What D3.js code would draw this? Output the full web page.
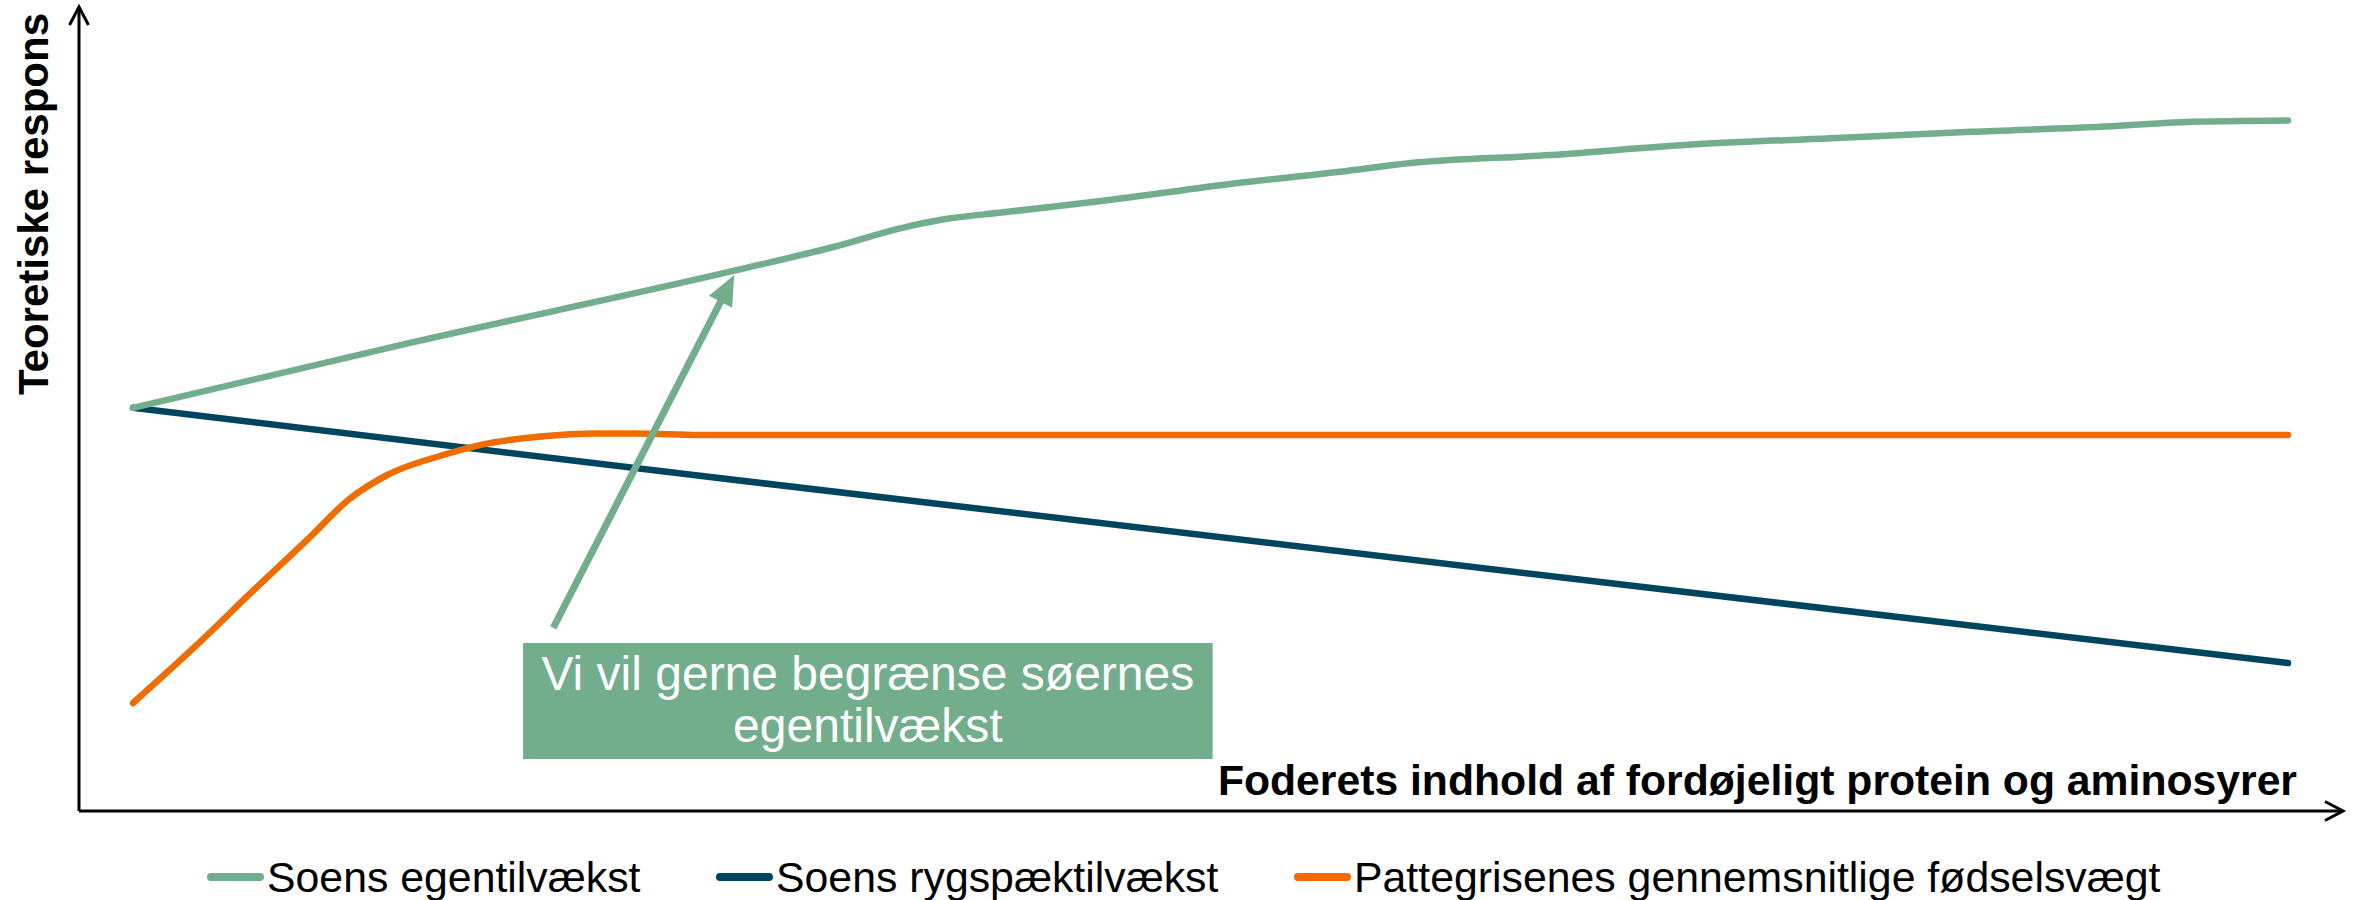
<!doctype html>
<html lang="da">
<head>
<meta charset="utf-8">
<title>Teoretiske respons</title>
<script src="https://cdn.jsdelivr.net/npm/d3@7"></script>
<style>
  body { margin: 0; background: #fff; }
  text { font-family: "Liberation Sans", Arial, sans-serif; }
</style>
</head>
<body>
<div id="chart"></div>
<script>
// values (arbitrary units, x 0..100, y 0..100)
var egenX  = [0, 13, 28, 32.5, 35.7, 37.5, 40.6, 45.4, 51, 56, 59.3, 65.8, 72.3, 78.8, 85.3, 91.8, 95.1, 100];
var egenY  = [50.4, 58.6, 67.6, 70.5, 72.9, 73.9, 74.9, 76.4, 78.4, 79.9, 81.0, 82.0, 83.3, 84.1, 84.9, 85.6, 86.1, 86.3];
var rygX   = [0, 26.3, 100];
var rygY   = [50.4, 41.9, 18.5];
var fodX   = [0, 2.9, 5.6, 8.2, 10.0, 11.8, 14.4, 16.2, 18.9, 21.5, 23.3, 26.3, 100];
var fodY   = [13.5, 20.6, 27.6, 34.2, 38.9, 42.0, 44.5, 45.8, 46.8, 47.2, 47.2, 47.0, 47.0];

var seriesNames  = ["Soens egentilvækst", "Soens rygspæktilvækst", "Pattegrisenes gennemsnitlige fødselsvægt"];
var seriesColors = ["#72ae8b", "#00445e", "#ee6c00"];

var yLabel = "Teoretiske respons";
var xLabel = "Foderets indhold af fordøjeligt protein og aminosyrer";
var noteLines = ["Vi vil gerne begrænse søernes", "egentilvækst"];

var width = 2362, height = 900;
var ox = 79, oy = 811; // axis origin

var x = d3.scaleLinear().domain([0, 100]).range([133, 2288]);
var y = d3.scaleLinear().domain([0, 100]).range([811, 11]);

var svg = d3.select("#chart").append("svg")
    .attr("width", width)
    .attr("height", height);

// axes
var axes = svg.append("g").attr("stroke", "#000").attr("stroke-width", 3).attr("fill", "none");
axes.append("path").attr("d", "M" + ox + "," + oy + "V7");
axes.append("path").attr("d", "M" + (ox - 9.5) + ",25L" + ox + ",7L" + (ox + 9.5) + ",25");
axes.append("path").attr("d", "M" + ox + "," + oy + "H2343");
axes.append("path").attr("d", "M2325," + (oy - 9.5) + "L2343," + oy + "L2325," + (oy + 9.5));

// lines
var line = d3.line()
    .x(function(d) { return x(d[0]); })
    .y(function(d) { return y(d[1]); })
    .curve(d3.curveMonotoneX);

var series = [
  d3.zip(rygX, rygY),
  d3.zip(fodX, fodY),
  d3.zip(egenX, egenY)
];
var order = [1, 2, 0];

series.forEach(function(s, i) {
  svg.append("path")
    .datum(s)
    .attr("d", line)
    .attr("fill", "none")
    .attr("stroke", seriesColors[order[i]])
    .attr("stroke-width", 6.5)
    .attr("stroke-linecap", "round")
    .attr("stroke-linejoin", "round");
});

// annotation box + arrow
var note = { x0: 18.1, x1: 50.1, y0: 21.0, y1: 6.5, ax: 19.5, ay: 22.9, tx: 27.9, ty: 67.0 };

svg.append("rect")
    .attr("x", x(note.x0))
    .attr("y", y(note.y0))
    .attr("width", x(note.x1) - x(note.x0))
    .attr("height", y(note.y1) - y(note.y0))
    .attr("fill", seriesColors[0]);

var cx = (x(note.x0) + x(note.x1)) / 2;
svg.selectAll(".note")
    .data(noteLines)
  .enter().append("text")
    .attr("x", cx)
    .attr("y", function(d, i) { return 690 + i * 52; })
    .attr("text-anchor", "middle")
    .attr("font-size", 48)
    .attr("fill", "#fff")
    .text(function(d) { return d; });

var sx = x(note.ax), sy = y(note.ay), tx = x(note.tx), ty = y(note.ty);
var len = Math.hypot(tx - sx, ty - sy), ux = (tx - sx) / len, uy = (ty - sy) / len;
var bx = tx - 30 * ux, by = ty - 30 * uy;
svg.append("line")
    .attr("x1", sx).attr("y1", sy)
    .attr("x2", bx + 2 * ux).attr("y2", by + 2 * uy)
    .attr("stroke", seriesColors[0])
    .attr("stroke-width", 7);
svg.append("path")
    .attr("d", "M" + tx + "," + ty +
               "L" + (bx - 13 * uy) + "," + (by + 13 * ux) +
               "L" + (bx + 13 * uy) + "," + (by - 13 * ux) + "Z")
    .attr("fill", seriesColors[0]);

// axis titles
svg.append("text")
    .attr("transform", "translate(48,204) rotate(-90)")
    .attr("text-anchor", "middle")
    .attr("font-size", 42)
    .attr("font-weight", "bold")
    .text(yLabel);

svg.append("text")
    .attr("x", 2297)
    .attr("y", 795)
    .attr("text-anchor", "end")
    .attr("font-size", 42.7)
    .attr("font-weight", "bold")
    .text(xLabel);

// legend
var legendX = [207, 716, 1294];
var leg = svg.selectAll(".legend")
    .data(seriesNames)
  .enter().append("g")
    .attr("transform", function(d, i) { return "translate(" + legendX[i] + ",877)"; });

leg.append("line")
    .attr("x1", 4).attr("x2", 53)
    .attr("stroke", function(d, i) { return seriesColors[i]; })
    .attr("stroke-width", 8)
    .attr("stroke-linecap", "round");

leg.append("text")
    .attr("x", 60)
    .attr("y", 15)
    .attr("font-size", 42.8)
    .text(function(d) { return d; });
</script>
</body>
</html>
